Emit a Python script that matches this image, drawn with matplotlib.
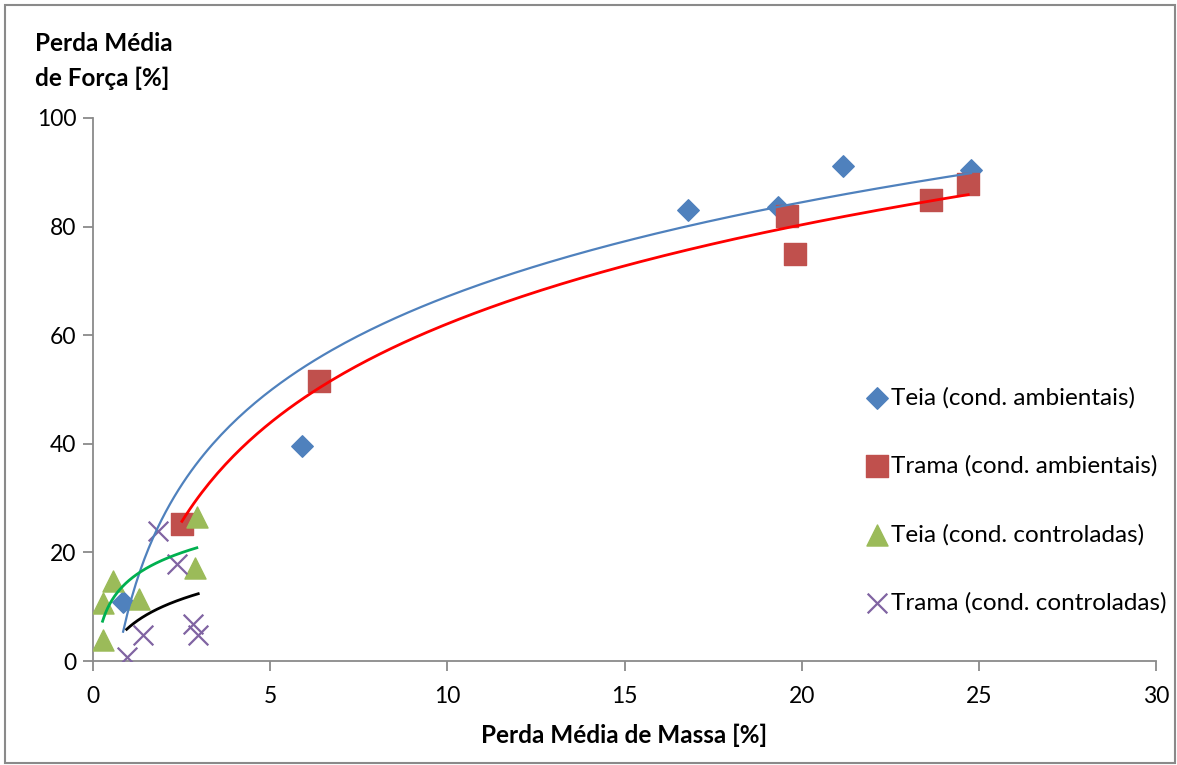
import numpy as np
import matplotlib
matplotlib.use("Agg")
import matplotlib.pyplot as plt
from matplotlib.patches import Rectangle

plt.rcParams['font.family'] = ['Lato', 'DejaVu Sans']

# Perda média de massa [%] vs perda média de força [%]
teia_amb_x = [0.85, 5.9, 16.8, 19.33, 21.17, 24.78]
teia_amb_y = [10.9, 39.6, 83.1, 83.6, 91.2, 90.4]

trama_amb_x = [2.51, 6.38, 19.6, 19.81, 23.65, 24.7]
trama_amb_y = [25.2, 51.6, 82.0, 75.0, 84.9, 87.8]

teia_ctrl_x = [0.27, 0.29, 0.56, 1.31, 2.88, 2.93]
teia_ctrl_y = [3.9, 10.6, 14.8, 11.4, 17.1, 26.6]

trama_ctrl_x = [0.95, 1.4, 1.84, 2.36, 2.83, 2.97]
trama_ctrl_y = [0.8, 4.8, 24.0, 17.9, 6.9, 4.7]

labels = ["Teia (cond. ambientais)", "Trama (cond. ambientais)",
          "Teia (cond. controladas)", "Trama (cond. controladas)"]
x_ticks = [0, 5, 10, 15, 20, 25, 30]
y_ticks = [0, 20, 40, 60, 80, 100]

fig = plt.figure(figsize=(11.77, 7.65), dpi=100)
ax = fig.add_axes([93 / 1177, 1 - 661 / 765, (1156 - 93) / 1177, (661 - 118) / 765])

# chart border
fig.patches.append(Rectangle((5 / 1177, 0.002), 1 - 5 / 1177 - 0.002, 1 - 5 / 765 - 0.002,
                             transform=fig.transFigure, fill=False,
                             edgecolor='#8a8a8a', lw=1.5))

series = [
    (teia_amb_x, teia_amb_y, dict(marker='D', color='#4F81BD', s=120), '#4F81BD', 1.6),
    (trama_amb_x, trama_amb_y, dict(marker='s', color='#C0504D', s=260), '#FF0000', 2.0),
    (teia_ctrl_x, teia_ctrl_y, dict(marker='^', color='#9BBB59', s=230), '#00B050', 2.0),
    (trama_ctrl_x, trama_ctrl_y, dict(marker='x', color='#8064A2', s=200, linewidths=1.6), '#000000', 2.0),
]

handles = []
for (xs, ys, mk, lc, lw), lab in zip(series, labels):
    h = ax.scatter(xs, ys, label=lab, zorder=3, **mk)
    handles.append(h)

# logarithmic trend lines (least squares on ln x)
for (xs, ys, mk, lc, lw) in series:
    xs = np.asarray(xs)
    a, b = np.polyfit(np.log(xs), np.asarray(ys), 1)
    xx = np.linspace(xs.min(), xs.max(), 200)
    ax.plot(xx, a * np.log(xx) + b, color=lc, lw=lw, zorder=4)

ax.set_xlim(0, 30)
ax.set_ylim(0, 100)
ax.set_xticks(x_ticks)
ax.set_yticks(y_ticks)
for s in ['top', 'right']:
    ax.spines[s].set_visible(False)
for s in ['left', 'bottom']:
    ax.spines[s].set_color('#8a8a8a')
    ax.spines[s].set_linewidth(1.3)
ax.tick_params(axis='both', direction='out', length=7, width=1.3, color='#8a8a8a',
               labelsize=16.5)
ax.tick_params(axis='x', pad=11)
ax.tick_params(axis='y', pad=5)

ax.set_xlabel("Perda Média de Massa [%]", fontsize=17.5, fontweight='bold', labelpad=12)
fig.text(35 / 1177, 1 - 61 / 765, "Perda Média\nde Força [%]", fontsize=17.5,
         fontweight='bold', ha='left', va='center', linespacing=1.55)

leg = ax.legend(handles=handles, loc='center left', bbox_to_anchor=(0.703, 0.296),
                frameon=False, fontsize=17.5, labelspacing=1.93, handletextpad=0.0,
                handlelength=1.2, scatterpoints=1)

fig.savefig("out.png", dpi=100)
